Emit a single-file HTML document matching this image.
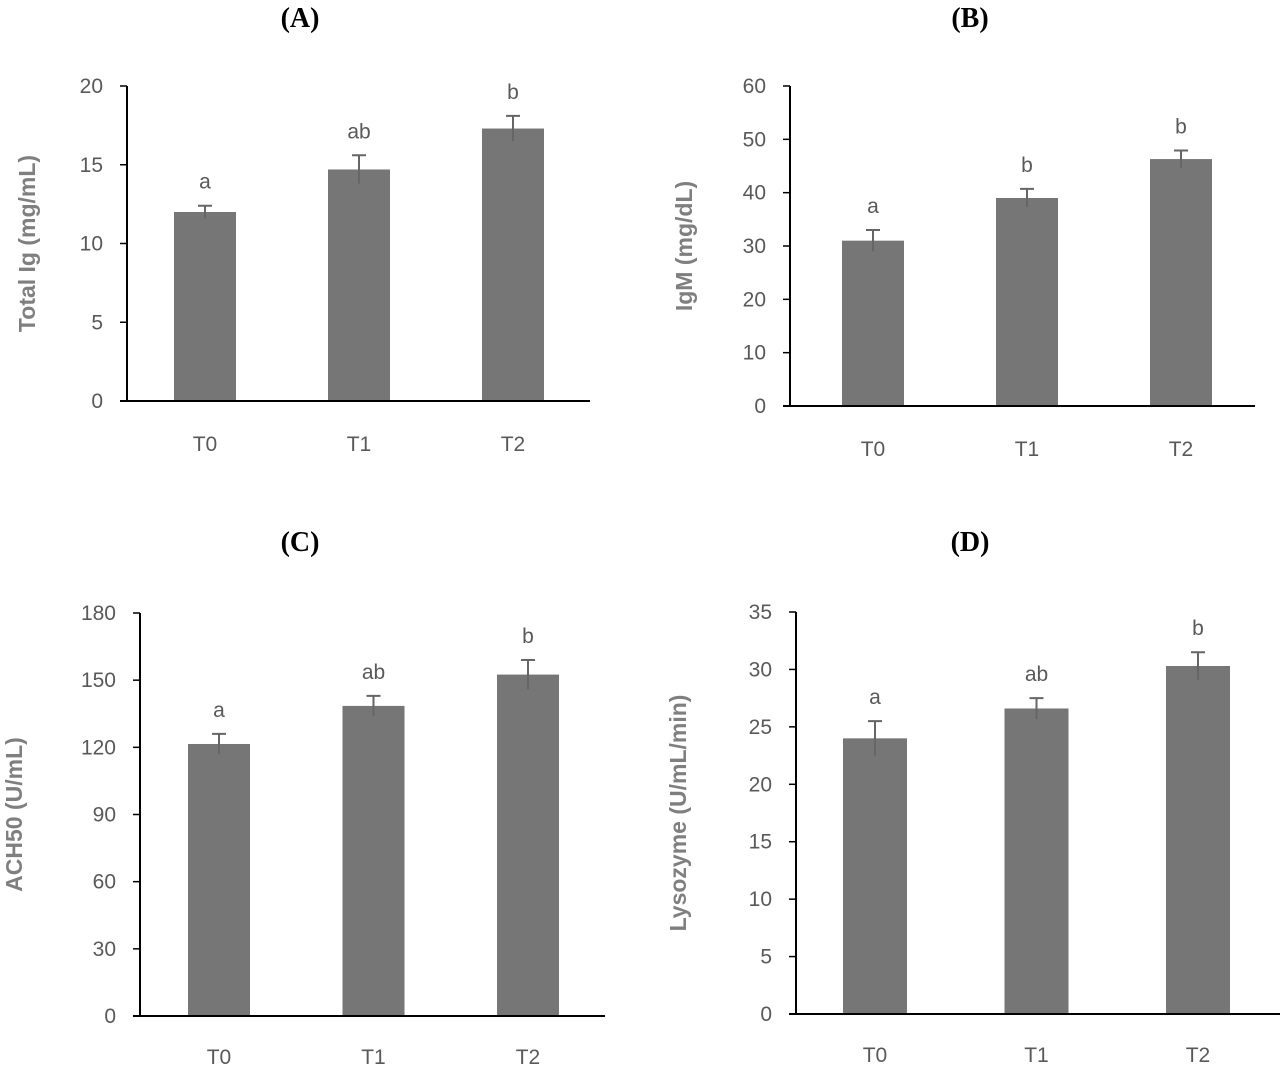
<!DOCTYPE html>
<html><head><meta charset="utf-8"><style>
body{margin:0;background:#fff;width:1280px;height:1067px;overflow:hidden}
svg{display:block}
</style></head><body>
<svg id="chart" width="1280" height="1067" xmlns="http://www.w3.org/2000/svg" font-family="Liberation Sans, sans-serif"></svg>
<script>
const categories = ["T0","T1","T2"];
const valuesA = [12.0, 14.7, 17.3];
const errorsA = [0.4, 0.9, 0.8];
const lettersA = ["a","ab","b"];
const ticksA = [0,5,10,15,20];
const valuesB = [31.0, 39.0, 46.3];
const errorsB = [2.0, 1.7, 1.6];
const lettersB = ["a","b","b"];
const ticksB = [0,10,20,30,40,50,60];
const valuesC = [121.5, 138.5, 152.5];
const errorsC = [4.5, 4.5, 6.5];
const lettersC = ["a","ab","b"];
const ticksC = [0,30,60,90,120,150,180];
const valuesD = [24.0, 26.6, 30.3];
const errorsD = [1.5, 0.9, 1.2];
const lettersD = ["a","ab","b"];
const ticksD = [0,5,10,15,20,25,30,35];

const NS="http://www.w3.org/2000/svg";
const svg=document.getElementById('chart');
function mk(tag,attrs,parent,txt){const e=document.createElementNS(NS,tag);for(const k in attrs)e.setAttribute(k,attrs[k]);if(txt!==undefined)e.textContent=txt;parent.appendChild(e);return e;}

function panel(id,cfg,values,errors,letters,ticks){
  const g=mk('g',{},svg);
  
  
  const max=ticks[ticks.length-1];
  const y=v=>cfg.y0-(v/max)*(cfg.y0-cfg.yTop);
  const t=mk('text',{x:cfg.titleX,y:cfg.titleY,'text-anchor':'middle','font-family':'Liberation Serif, serif','font-weight':'bold','font-size':28,fill:'#000'},g,'('+id+')');
  
  
  ticks.forEach(tv=>{
    const tk=mk('line',{x1:cfg.ax-7,x2:cfg.ax,y1:y(tv),y2:y(tv),stroke:'#000','stroke-width':1.5},g);
    
    
    const tl=mk('text',{x:cfg.ax-24,y:y(tv)+7,'text-anchor':'end','font-size':21,fill:'#595959'},g,String(tv));
    
    
  });
  const yl=mk('text',{transform:`translate(${cfg.labX},${(cfg.y0+cfg.yTop)/2}) rotate(-90)`,'text-anchor':'middle','font-size':23,'font-weight':'bold',fill:'#7f7f7f'},g,cfg.label);
  
  
  values.forEach((v,i)=>{
    const cx=cfg.x0+i*cfg.step;
    const b=mk('rect',{x:cx-cfg.bw/2,y:y(v),width:cfg.bw,height:cfg.y0-y(v),fill:'#767676'},g);
    
    
    const e=mk('path',{d:`M${cx},${y(v-errors[i])}V${y(v+errors[i])}M${cx-7},${y(v+errors[i])}H${cx+7}`,stroke:'#666','stroke-width':2,fill:'none'},g);
    
    
    const l=mk('text',{x:cx,y:y(v+errors[i])-17,'text-anchor':'middle','font-size':21,fill:'#595959'},g,letters[i]);
    
    
    const c=mk('text',{x:cx,y:cfg.y0+cfg.catDy,'text-anchor':'middle','font-size':21,fill:'#595959'},g,categories[i]);
    
    
  });
  const ya=mk('line',{x1:cfg.ax,x2:cfg.ax,y1:cfg.yTop,y2:cfg.y0,stroke:'#000','stroke-width':2},g);
  
  
  const xa=mk('line',{x1:cfg.ax-7,x2:cfg.xEnd,y1:cfg.y0,y2:cfg.y0,stroke:'#000','stroke-width':2},g);
  
  
}
panel('A',{ax:127,yTop:86,y0:401,x0:205,step:154,bw:62,xEnd:590,catDy:50,labX:35,label:'Total Ig (mg/mL)',titleX:300,titleY:27},valuesA,errorsA,lettersA,ticksA);
panel('B',{ax:790,yTop:86,y0:406,x0:873,step:154,bw:62,xEnd:1255,catDy:50,labX:692,label:'IgM (mg/dL)',titleX:970,titleY:27},valuesB,errorsB,lettersB,ticksB);
panel('C',{ax:140,yTop:613,y0:1016,x0:219,step:154.5,bw:62,xEnd:605,catDy:48,labX:22,label:'ACH50 (U/mL)',titleX:300,titleY:551},valuesC,errorsC,lettersC,ticksC);
panel('D',{ax:796,yTop:612,y0:1014,x0:875,step:161.5,bw:64,xEnd:1280,catDy:48,labX:686,label:'Lysozyme (U/mL/min)',titleX:970,titleY:551},valuesD,errorsD,lettersD,ticksD);
</script>
</body></html>
